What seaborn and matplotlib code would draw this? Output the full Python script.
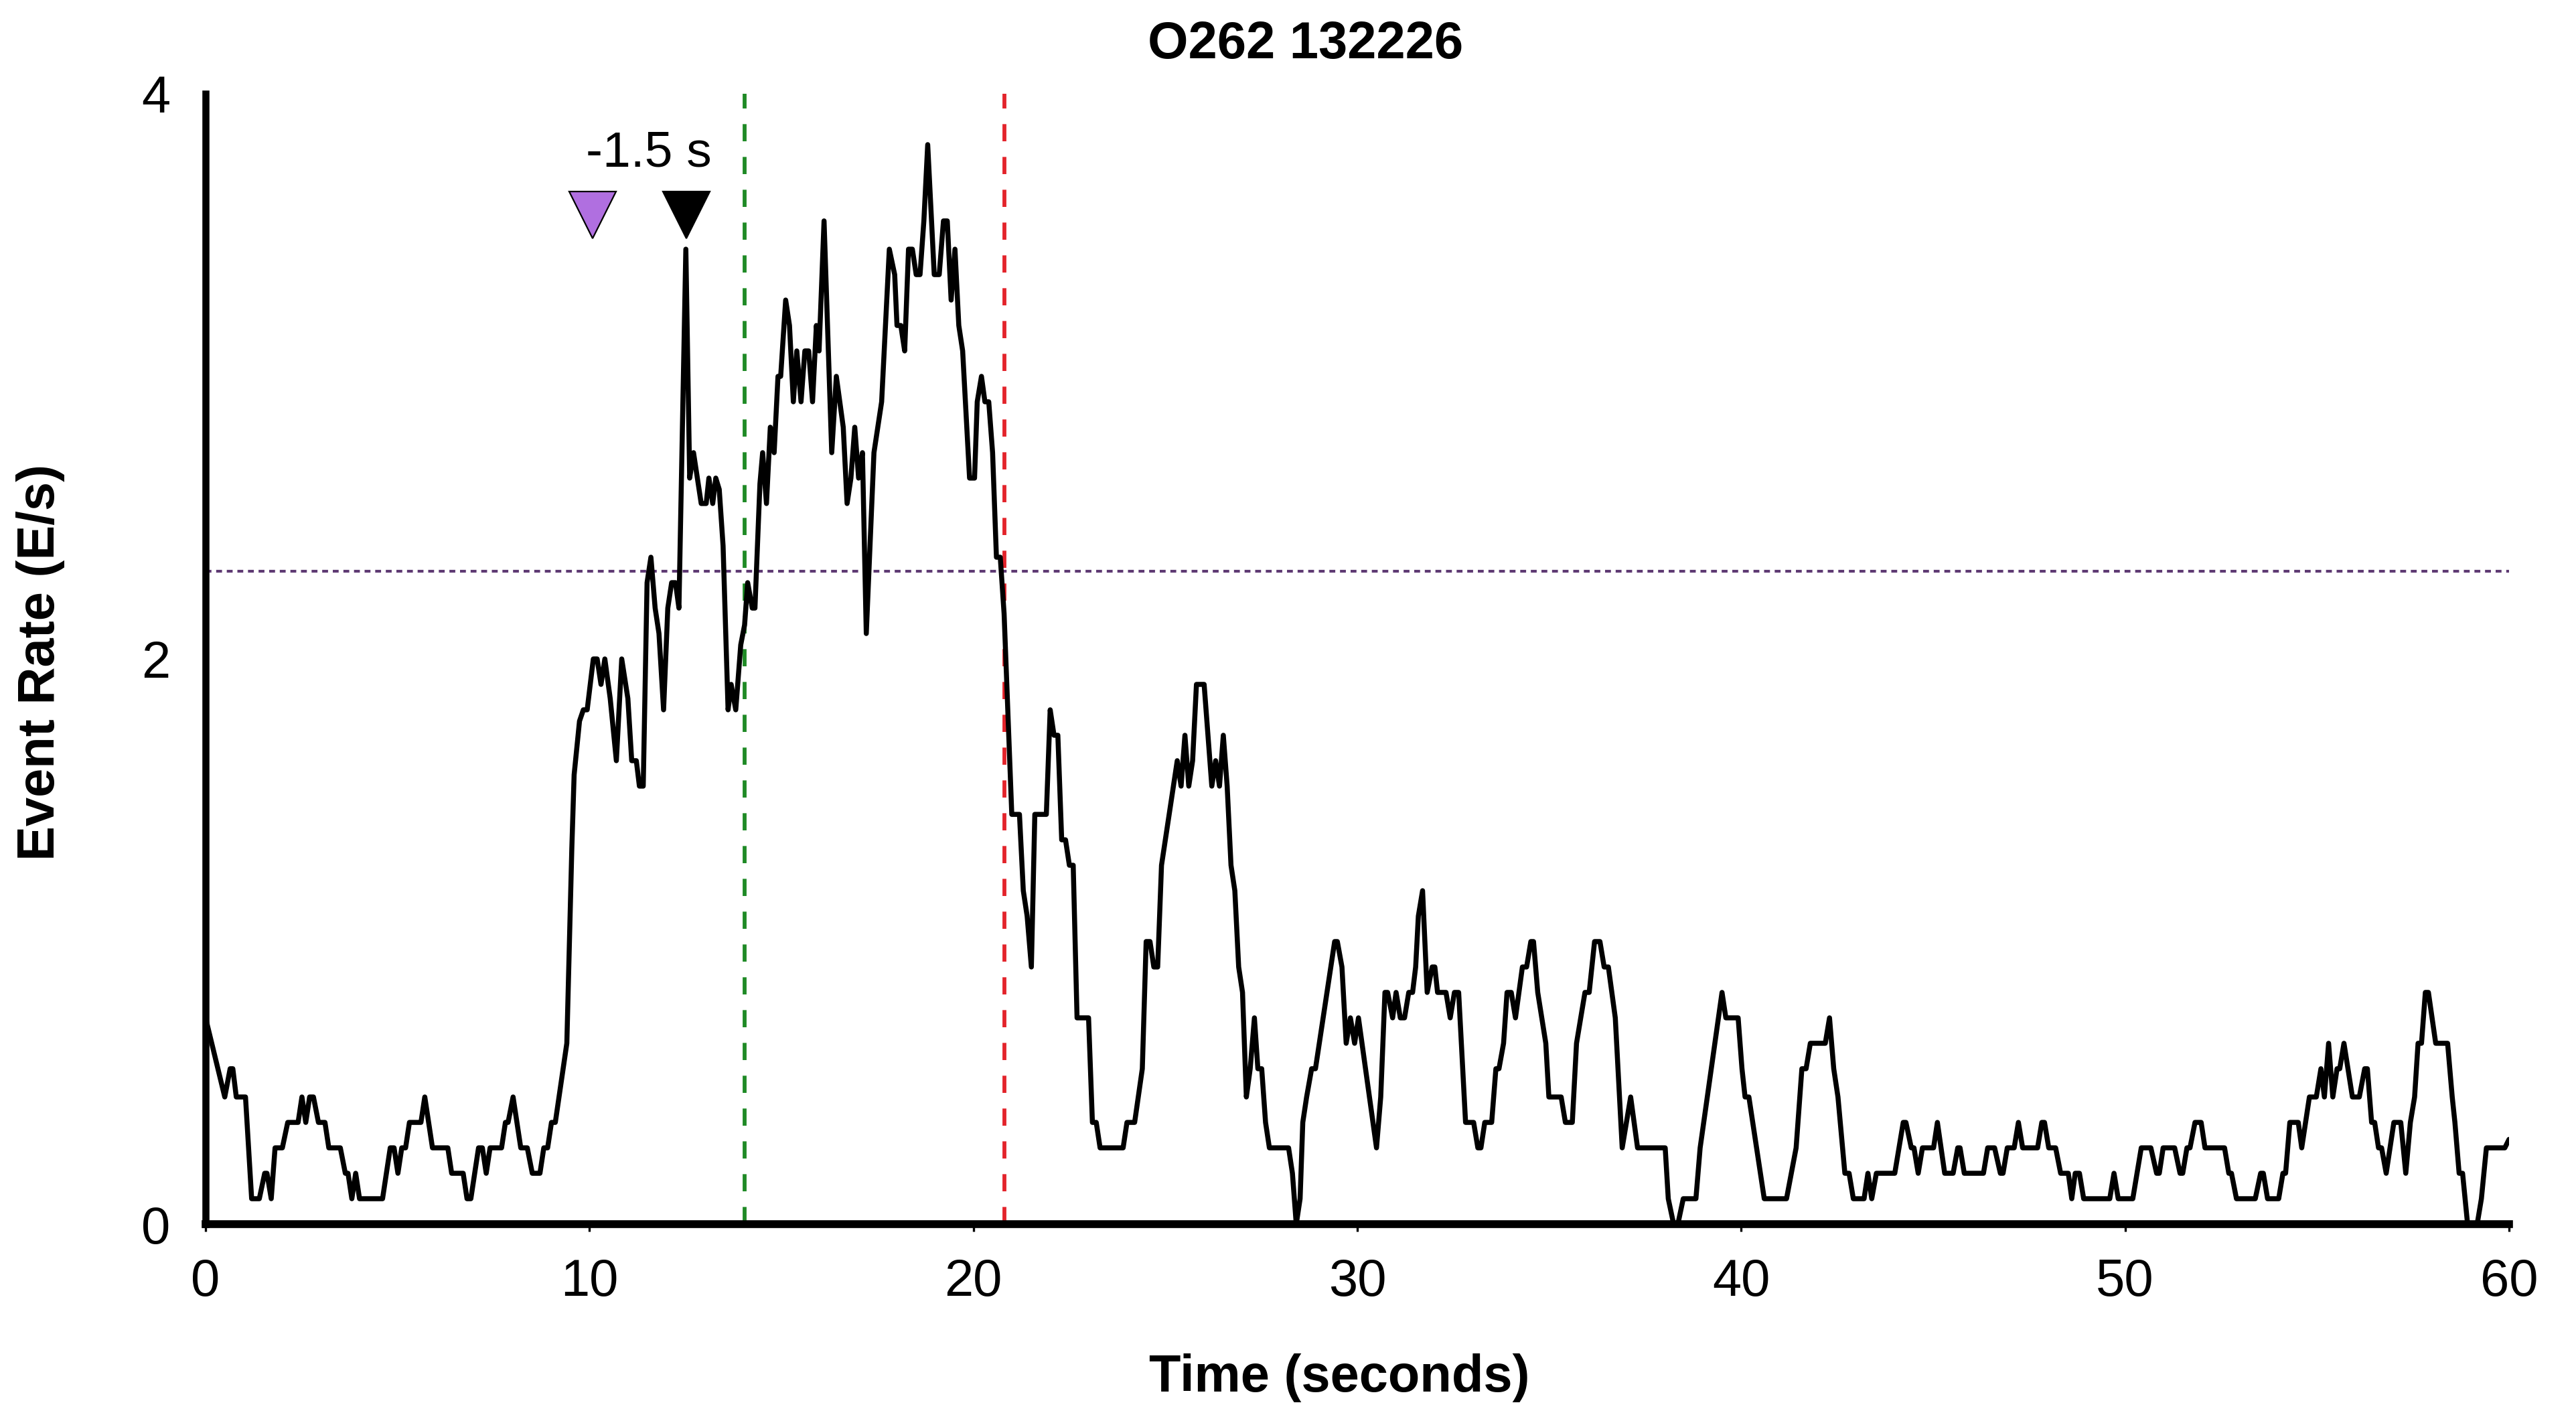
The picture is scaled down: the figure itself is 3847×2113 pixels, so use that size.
import matplotlib
matplotlib.use("Agg")
import matplotlib.pyplot as plt
import seaborn as sns
import pandas as pd

# ---------------- data ----------------
time_s = [
    0.0, 0.5, 0.64, 0.71, 0.8, 1.04, 1.2, 1.4, 1.54, 1.6, 1.71, 1.81, 2.0, 2.14, 2.41, 2.51, 2.61, 2.71, 2.81,
    2.94, 3.11, 3.21, 3.51, 3.64, 3.71, 3.81, 3.91, 4.01, 4.61, 4.81, 4.91, 5.01, 5.11, 5.21, 5.31, 5.61, 5.71,
    5.91, 6.31, 6.41, 6.71, 6.81, 6.91, 7.11, 7.21, 7.31, 7.41, 7.71, 7.81, 7.88, 8.01, 8.21, 8.38, 8.51, 8.71,
    8.81, 8.91, 9.01, 9.11, 9.41,
    9.54, 9.6, 9.74, 9.84, 9.94, 10.02, 10.1, 10.2, 10.3, 10.4, 10.54, 10.7, 10.84, 11.0, 11.1, 11.22, 11.3, 11.4,
    11.5, 11.6, 11.71, 11.81, 11.93, 12.04, 12.14, 12.24, 12.33, 12.51, 12.61, 12.71, 12.91, 13.04, 13.11, 13.21,
    13.29, 13.38, 13.48, 13.61, 13.69, 13.81, 13.94, 14.04, 14.12, 14.24, 14.31, 14.44, 14.51, 14.61, 14.71, 14.81,
    14.91, 14.98, 15.11, 15.21, 15.31, 15.4, 15.51, 15.61, 15.71, 15.81, 15.91, 15.98, 16.11, 16.31, 16.43, 16.61,
    16.71, 16.81, 16.91, 17.01, 17.11, 17.21, 17.41, 17.61, 17.81, 17.95, 18.01, 18.11, 18.21, 18.31, 18.41, 18.51,
    18.61, 18.71, 18.81, 18.98, 19.11, 19.22, 19.32, 19.42, 19.52, 19.62, 19.72, 19.9, 20.03, 20.1, 20.21, 20.3,
    20.4, 20.5, 20.6, 20.7, 20.8,
    21.0, 21.2, 21.3, 21.4, 21.51, 21.6, 21.9, 22.0, 22.1, 22.2, 22.3, 22.4, 22.5, 22.6, 22.7, 23.0, 23.1, 23.2,
    23.3, 23.9, 24.0, 24.2, 24.4, 24.5, 24.6, 24.7, 24.8, 24.9, 25.1, 25.31, 25.41, 25.51, 25.61, 25.71, 25.81,
    26.01, 26.11, 26.21, 26.31, 26.41, 26.51, 26.61, 26.71, 26.81, 26.91, 27.01, 27.11, 27.21, 27.32, 27.41, 27.51,
    27.61, 27.71, 28.21, 28.31, 28.41, 28.51, 28.58, 28.68, 28.81, 28.91, 29.41, 29.48,
    29.6, 29.71, 29.82, 29.93, 30.03, 30.5, 30.61, 30.72, 30.79, 30.92, 31.01, 31.12, 31.23, 31.34, 31.44, 31.52,
    31.59, 31.7, 31.82, 31.95, 32.02, 32.09, 32.31, 32.42, 32.53, 32.64, 32.82, 33.03, 33.14, 33.22, 33.32, 33.5,
    33.61, 33.69, 33.81, 33.9, 34.01, 34.12, 34.3, 34.41, 34.52, 34.59, 34.7, 34.91, 34.99, 35.31, 35.42, 35.6,
    35.71, 35.82, 35.93, 36.04, 36.18, 36.32, 36.43, 36.54, 36.72, 36.9, 37.12, 37.3, 38.02, 38.1, 38.24, 38.35,
    38.49, 38.82, 38.93, 39.5, 39.6, 39.92, 40.02, 40.1, 40.2, 40.6, 41.18, 41.43, 41.58, 41.69, 41.8, 42.19,
    42.3, 42.41, 42.52, 42.7, 42.81, 42.92, 43.2, 43.3, 43.4, 43.52, 44.0, 44.22, 44.29, 44.43, 44.5, 44.61,
    44.72, 45.01, 45.11, 45.3, 45.52, 45.64, 45.7, 45.81, 46.31, 46.42, 46.6, 46.75, 46.82, 46.93, 47.11, 47.22,
    47.33, 47.72, 47.83, 47.9, 48.01, 48.19, 48.32, 48.52, 48.61, 48.7, 48.81, 48.92, 49.6, 49.71, 49.82, 50.2,
    50.42, 50.67, 50.82, 50.89, 50.99, 51.29, 51.43, 51.5, 51.61, 51.69, 51.82, 51.98, 52.08, 52.59, 52.7, 52.77,
    52.9, 53.39, 53.53, 53.6, 53.71, 54.0, 54.11, 54.18, 54.29, 54.51, 54.6, 54.8, 54.98, 55.1, 55.19, 55.3,
    55.41, 55.52, 55.59, 55.7, 55.92, 56.1, 56.24, 56.31, 56.42, 56.5, 56.6, 56.68, 56.8, 57.0, 57.18, 57.31,
    57.43, 57.54, 57.63, 57.72, 57.82, 57.9, 58.09, 58.4, 58.52, 58.59, 58.7, 58.79, 58.92, 59.17, 59.28, 59.41,
    59.89, 60.0,
]
event_rate = [
    0.73, 0.45, 0.55, 0.55, 0.45, 0.45, 0.09, 0.09, 0.18, 0.18, 0.09, 0.27, 0.27, 0.36, 0.36, 0.45, 0.36, 0.45, 0.45,
    0.36, 0.36, 0.27, 0.27, 0.18, 0.18, 0.09, 0.18, 0.09, 0.09, 0.27, 0.27, 0.18, 0.27, 0.27, 0.36, 0.36, 0.45,
    0.27, 0.27, 0.18, 0.18, 0.09, 0.09, 0.27, 0.27, 0.18, 0.27, 0.27, 0.36, 0.36, 0.45, 0.27, 0.27, 0.18, 0.18,
    0.27, 0.27, 0.36, 0.36, 0.64,
    1.33, 1.59, 1.78, 1.82, 1.82, 1.91, 2.0, 2.0, 1.91, 2.0, 1.86, 1.64, 2.0, 1.86, 1.64, 1.64, 1.55, 1.55,
    2.27, 2.36, 2.18, 2.09, 1.82, 2.18, 2.27, 2.27, 2.18, 3.45, 2.64, 2.73, 2.55, 2.55, 2.64, 2.55,
    2.64, 2.6, 2.4, 1.82, 1.91, 1.82, 2.05, 2.12, 2.27, 2.18, 2.18, 2.62, 2.73, 2.55, 2.82, 2.73,
    3.0, 3.0, 3.27, 3.18, 2.91, 3.09, 2.91, 3.09, 3.09, 2.91, 3.18, 3.09, 3.55, 2.73, 3.0, 2.82,
    2.55, 2.64, 2.82, 2.64, 2.73, 2.09, 2.73, 2.91, 3.45, 3.36, 3.18, 3.18, 3.09, 3.45, 3.45, 3.36,
    3.36, 3.55, 3.82, 3.36, 3.36, 3.55, 3.55, 3.27, 3.45, 3.18, 3.09, 2.64, 2.64, 2.91, 3.0, 2.91,
    2.91, 2.73, 2.36, 2.36, 2.16,
    1.45, 1.45, 1.18, 1.09, 0.91, 1.45, 1.45, 1.82, 1.73, 1.73, 1.36, 1.36, 1.27, 1.27, 0.73, 0.73, 0.36, 0.36,
    0.27, 0.27, 0.36, 0.36, 0.55, 1.0, 1.0, 0.91, 0.91, 1.27, 1.45, 1.64, 1.55, 1.73, 1.55, 1.64, 1.91,
    1.91, 1.73, 1.55, 1.64, 1.55, 1.73, 1.55, 1.27, 1.18, 0.91, 0.82, 0.45, 0.55, 0.73, 0.55, 0.55,
    0.36, 0.27, 0.27, 0.18, 0.0, 0.09, 0.36, 0.45, 0.55, 0.55, 1.0, 1.0,
    0.91, 0.64, 0.73, 0.64, 0.73, 0.27, 0.45, 0.82, 0.82, 0.73, 0.82, 0.73, 0.73, 0.82, 0.82, 0.91,
    1.09, 1.18, 0.82, 0.91, 0.91, 0.82, 0.82, 0.73, 0.82, 0.82, 0.36, 0.36, 0.27, 0.27, 0.36, 0.36,
    0.55, 0.55, 0.64, 0.82, 0.82, 0.73, 0.91, 0.91, 1.0, 1.0, 0.82, 0.64, 0.45, 0.45, 0.36, 0.36,
    0.64, 0.73, 0.82, 0.82, 1.0, 1.0, 0.91, 0.91, 0.73, 0.27, 0.45, 0.27, 0.27, 0.09, 0.0, 0.0,
    0.09, 0.09, 0.27, 0.82, 0.73, 0.73, 0.55, 0.45, 0.45, 0.09, 0.09, 0.27, 0.55, 0.55, 0.64, 0.64,
    0.73, 0.55, 0.45, 0.18, 0.18, 0.09, 0.09, 0.18, 0.09, 0.18, 0.18, 0.36, 0.36, 0.27, 0.27, 0.18,
    0.27, 0.27, 0.36, 0.18, 0.18, 0.27, 0.27, 0.18, 0.18, 0.27, 0.27, 0.18, 0.18, 0.27, 0.27, 0.36,
    0.27, 0.27, 0.36, 0.36, 0.27, 0.27, 0.18, 0.18, 0.09, 0.18, 0.18, 0.09, 0.09, 0.18, 0.09, 0.09,
    0.27, 0.27, 0.18, 0.18, 0.27, 0.27, 0.18, 0.18, 0.27, 0.27, 0.36, 0.36, 0.27, 0.27, 0.18, 0.18,
    0.09, 0.09, 0.18, 0.18, 0.09, 0.09, 0.18, 0.18, 0.36, 0.36, 0.27, 0.45, 0.45, 0.55, 0.45, 0.64,
    0.45, 0.55, 0.55, 0.64, 0.45, 0.45, 0.55, 0.55, 0.36, 0.36, 0.27, 0.27, 0.18, 0.36, 0.36, 0.18,
    0.36, 0.45, 0.64, 0.64, 0.82, 0.82, 0.64, 0.64, 0.45, 0.36, 0.18, 0.18, 0.0, 0.0, 0.09, 0.27,
    0.27, 0.30,
]

threshold = 2.31
onset_time = 14.04
offset_time = 20.8
marker_times = [10.08, 12.53]
marker_levels = [3.57, 3.57]
marker_colors = ["#B06FE0", "#000000"]
lead_label = "-1.5 s"
lead_label_pos = (11.55, 3.79)

title = "O262 132226"
x_label = "Time (seconds)"
y_label = "Event Rate (E/s)"
x_ticks = [0, 10, 20, 30, 40, 50, 60]
y_ticks = [0, 2, 4]

# ---------------- figure ----------------
sns.set_theme(style="white")
plt.rcParams["font.family"] = ["Liberation Sans", "DejaVu Sans"]
plt.rcParams["text.color"] = "black"
plt.rcParams["axes.labelcolor"] = "black"
plt.rcParams["xtick.color"] = "black"
plt.rcParams["ytick.color"] = "black"

W, H, DPI = 3848, 2113, 200
fig = plt.figure(figsize=(W / DPI, H / DPI), dpi=DPI)
ax = fig.add_axes([307 / W, 1 - 1828 / H, (3747 - 307) / W, (1828 - 140) / H])

df = pd.DataFrame({"time": time_s, "rate": event_rate})
sns.lineplot(data=df, x="time", y="rate", ax=ax, color="black", linewidth=2.7,
             estimator=None, sort=False, zorder=3)

# threshold (dotted purple)
ax.axhline(threshold, color="#5E3A73", linewidth=1.5, linestyle=(0, (2.1, 1.7)), zorder=2)
# onset / offset (dashed)
ax.axvline(onset_time, color="#1F8A26", linewidth=2.1, linestyle=(0, (4.4, 4.0)), zorder=2)
ax.axvline(offset_time, color="#E3242B", linewidth=2.1, linestyle=(0, (4.4, 4.0)), zorder=2)

# triangle markers
for t, lv, c in zip(marker_times, marker_levels, marker_colors):
    ax.plot([t], [lv], marker="v", markersize=25, color=c, markeredgecolor="black",
            markeredgewidth=0.8, linestyle="none", zorder=4, clip_on=False)
ax.text(lead_label_pos[0], lead_label_pos[1], lead_label, ha="center", va="center",
        fontsize=27, color="black", zorder=5)

ax.set_xlim(0, 60)
ax.set_ylim(0, 4)
ax.set_xticks(x_ticks)
ax.set_yticks(y_ticks)
ax.set_xlabel("")
ax.set_ylabel("")
ax.tick_params(axis="x", labelsize=28, length=4, width=1.2, direction="out", pad=14,
               colors="black", bottom=True)
ax.tick_params(axis="y", labelsize=28, length=0, pad=19, colors="black")

for side in ["top", "right"]:
    ax.spines[side].set_visible(False)
ax.spines["left"].set_linewidth(3.8)
ax.spines["bottom"].set_linewidth(4.2)
ax.spines["left"].set_color("black")
ax.spines["bottom"].set_color("black")
ax.grid(False)

fig.text(1950 / W, 1 - 66 / H, title, ha="center", va="center", fontsize=28,
         fontweight="bold", color="black")
fig.text(2000 / W, 1 - 2057 / H, x_label, ha="center", va="center", fontsize=28,
         fontweight="bold", color="black")
fig.text(61 / W, 1 - 989 / H, y_label, ha="center", va="center", rotation=90, fontsize=28,
         fontweight="bold", color="black")

fig.savefig("out.png", dpi=DPI, facecolor="white")
